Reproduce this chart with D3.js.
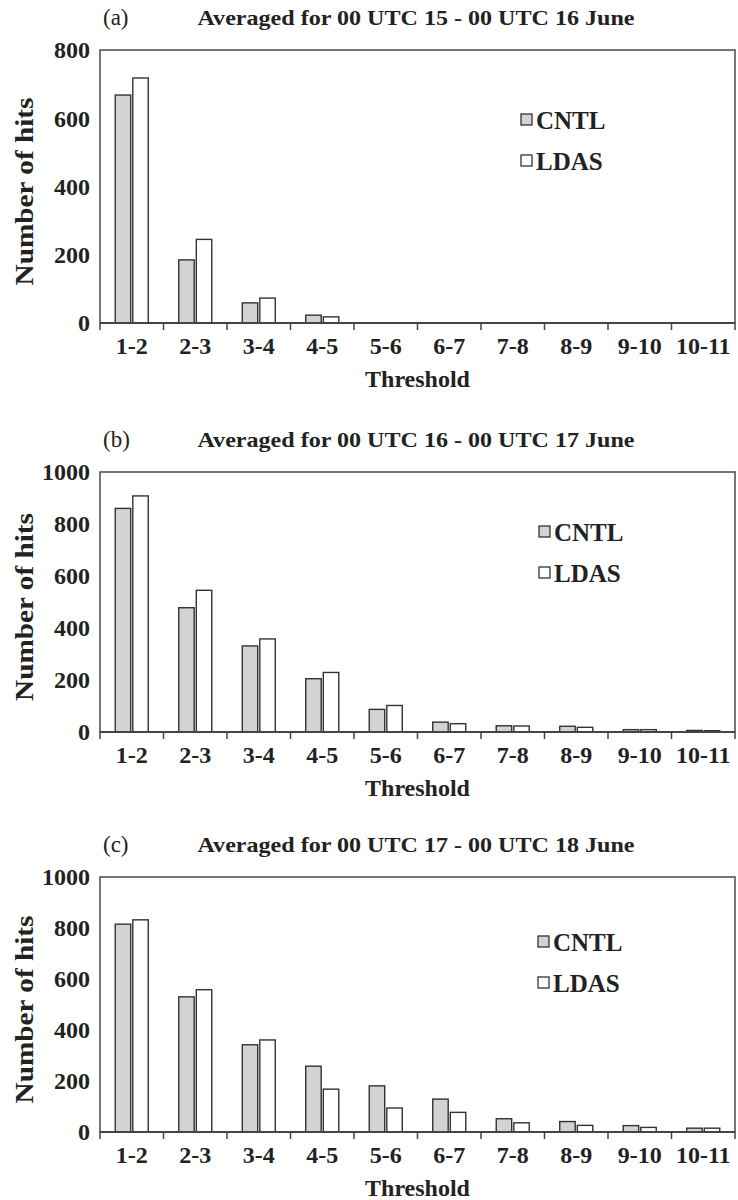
<!DOCTYPE html>
<html>
<head>
<meta charset="utf-8">
<script src="https://cdn.jsdelivr.net/npm/d3@7"></script>
<style>
  body { margin: 0; background: #fff; }
  svg text { font-family: "Liberation Serif", "Times New Roman", Times, serif; font-weight: bold; fill: #222; }
</style>
</head>
<body>
<svg id="chart" width="738" height="1200"></svg>
<script>
// categories
const thresholds = ['1-2', '2-3', '3-4', '4-5', '5-6', '6-7', '7-8', '8-9', '9-10', '10-11'];
const seriesNames = ['CNTL', 'LDAS'];

// panel (a) 00 UTC 15 - 00 UTC 16 June
const cntlA = [668, 185, 59, 23, 0, 0, 0, 0, 0, 0];
const ldasA = [718, 245, 73, 18, 0, 0, 0, 0, 0, 0];
// panel (b) 00 UTC 16 - 00 UTC 17 June
const cntlB = [860, 478, 331, 205, 87, 38, 24, 22, 9, 6];
const ldasB = [908, 545, 358, 229, 102, 32, 23, 18, 9, 5];
// panel (c) 00 UTC 17 - 00 UTC 18 June
const cntlC = [815, 530, 342, 258, 181, 129, 52, 41, 25, 15];
const ldasC = [832, 558, 361, 168, 94, 77, 36, 26, 18, 15];

const yTicksA = [0, 200, 400, 600, 800];
const yTicksBC = [0, 200, 400, 600, 800, 1000];

const panelLetters = ['(a)', '(b)', '(c)'];
const titles = [
  'Averaged for 00 UTC 15 - 00 UTC 16 June',
  'Averaged for 00 UTC 16 - 00 UTC 17 June',
  'Averaged for 00 UTC 17 - 00 UTC 18 June'
];

const panels = [
  { cntl: cntlA, ldas: ldasA, ticks: yTicksA, top: 50, bottom: 323, legendX: 521, legendY: 120 },
  { cntl: cntlB, ldas: ldasB, ticks: yTicksBC, top: 472, bottom: 732, legendX: 539, legendY: 532 },
  { cntl: cntlC, ldas: ldasC, ticks: yTicksBC, top: 877, bottom: 1132, legendX: 538, legendY: 942 }
];

const left = 100, right = 735;
const fills = { CNTL: '#d3d3d3', LDAS: '#ffffff' };
const svg = d3.select('#chart');

panels.forEach((p, i) => {
  const g = svg.append('g');

  const x = d3.scaleBand().domain(thresholds).range([left, right]).padding(0);
  const xs = d3.scaleBand().domain(seriesNames)
    .range([0.24 * x.bandwidth(), 0.76 * x.bandwidth()])
    .paddingInner(0.12);
  const y = d3.scaleLinear().domain([0, d3.max(p.ticks)]).range([p.bottom, p.top]);

  // frame
  g.append('rect')
    .attr('x', left).attr('y', p.top)
    .attr('width', right - left).attr('height', p.bottom - p.top)
    .attr('fill', '#fff').attr('stroke', '#555').attr('stroke-width', 1.6);

  // bars
  const rows = thresholds.map((t, k) => ({ t, CNTL: p.cntl[k], LDAS: p.ldas[k] }));
  g.selectAll('g.grp')
    .data(rows)
    .join('g')
    .attr('class', 'grp')
    .attr('transform', d => `translate(${x(d.t)},0)`)
    .selectAll('rect')
    .data(d => seriesNames.map(s => ({ s, v: d[s] })).filter(e => e.v > 0))
    .join('rect')
    .attr('x', d => xs(d.s))
    .attr('y', d => y(d.v))
    .attr('width', xs.bandwidth())
    .attr('height', d => y(0) - y(d.v))
    .attr('fill', d => fills[d.s])
    .attr('stroke', '#333')
    .attr('stroke-width', 1.4);

  // x axis line + boundary ticks
  g.append('line')
    .attr('x1', left).attr('x2', right)
    .attr('y1', p.bottom).attr('y2', p.bottom)
    .attr('stroke', '#444').attr('stroke-width', 1.8);
  const bounds = thresholds.map(t => x(t)).concat([right]);
  g.selectAll('line.tk')
    .data(bounds)
    .join('line')
    .attr('class', 'tk')
    .attr('x1', d => d).attr('x2', d => d)
    .attr('y1', p.bottom).attr('y2', p.bottom + 7)
    .attr('stroke', '#444').attr('stroke-width', 1.5);

  // x labels
  g.selectAll('text.xl')
    .data(thresholds)
    .join('text')
    .attr('class', 'xl')
    .attr('x', d => x(d) + x.bandwidth() / 2)
    .attr('y', p.bottom + 31)
    .attr('text-anchor', 'middle')
    .style('font-size', '24px')
    .text(d => d);

  // y labels
  g.selectAll('text.yl')
    .data(p.ticks)
    .join('text')
    .attr('class', 'yl')
    .attr('x', 90)
    .attr('y', d => y(d))
    .attr('dy', '0.35em')
    .attr('text-anchor', 'end')
    .style('font-size', '24px')
    .text(d => d);

  // axis titles
  g.append('text')
    .attr('x', (left + right) / 2)
    .attr('y', p.bottom + 64)
    .attr('text-anchor', 'middle')
    .style('font-size', '24px')
    .text('Threshold');

  g.append('text')
    .attr('transform', `translate(33,${(p.top + p.bottom) / 2 + 5}) rotate(-90)`)
    .attr('text-anchor', 'middle')
    .attr('textLength', 188)
    .attr('lengthAdjust', 'spacingAndGlyphs')
    .style('font-size', '26px')
    .text('Number of hits');

  // panel title
  g.append('text')
    .attr('x', 103)
    .attr('y', p.top - 25)
    .style('font-size', '23px')
    .style('font-weight', 'normal')
    .text(panelLetters[i]);
  g.append('text')
    .attr('x', 416)
    .attr('y', p.top - 25)
    .attr('text-anchor', 'middle')
    .attr('textLength', 437)
    .attr('lengthAdjust', 'spacingAndGlyphs')
    .style('font-size', '22px')
    .text(titles[i]);

  // legend
  const lg = g.selectAll('g.lg')
    .data(seriesNames)
    .join('g')
    .attr('class', 'lg')
    .attr('transform', (d, k) => `translate(${p.legendX},${p.legendY + k * 41})`);
  lg.append('rect')
    .attr('x', 0).attr('y', -6)
    .attr('width', 11).attr('height', 11)
    .attr('fill', d => fills[d])
    .attr('stroke', '#333').attr('stroke-width', 1.3);
  lg.append('text')
    .attr('x', 15)
    .attr('y', 8.5)
    .style('font-size', '25px')
    .text(d => d);
});
</script>
</body>
</html>
